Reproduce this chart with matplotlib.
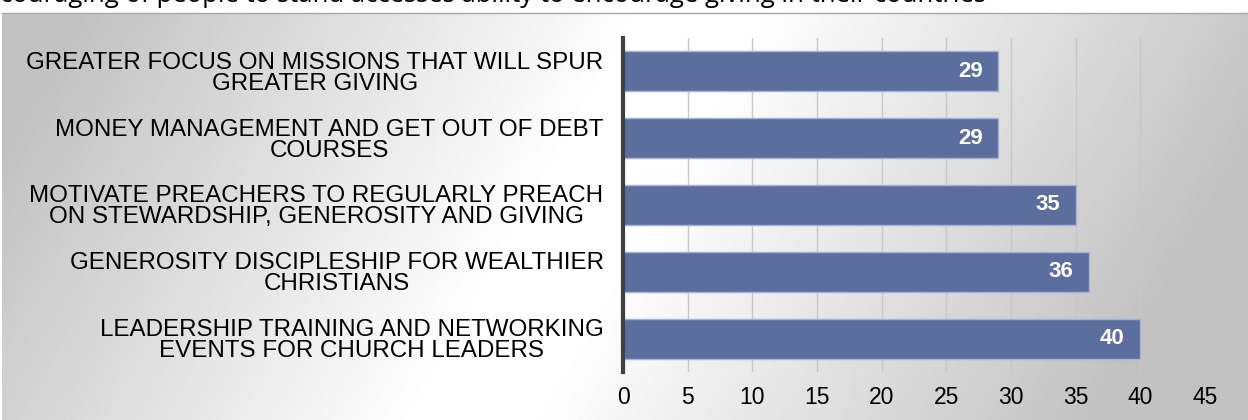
import numpy as np
from matplotlib import pyplot as plt

categories = ['GREATER FOCUS ON MISSIONS THAT WILL SPUR\nGREATER GIVING',
              'MONEY MANAGEMENT AND GET OUT OF DEBT\nCOURSES',
              'MOTIVATE PREACHERS TO REGULARLY PREACH\nON STEWARDSHIP, GENEROSITY AND GIVING',
              'GENEROSITY DISCIPLESHIP FOR WEALTHIER\nCHRISTIANS',
              'LEADERSHIP TRAINING AND NETWORKING\nEVENTS FOR CHURCH LEADERS']
values = [29, 29, 35, 36, 40]
x_ticks = [0, 5, 10, 15, 20, 25, 30, 35, 40, 45]
cut_text = 'couraging of people to stand accesses ability to encourage giving in their countries'

FONT = ['Liberation Sans', 'DejaVu Sans']
W, H = 1248, 420

fig = plt.figure(figsize=(W / 100, H / 100), dpi=100)
fig.patch.set_facecolor('white')

# shaded background of the chart box (gray - white - gray)
bg = fig.add_axes([0.002, 0, 0.998, (H - 13) / H])
xx, yy = np.meshgrid(np.arange(W), np.arange(H - 13))
centre = 700 - 230 * yy / (H - 13)
dist = np.clip((np.abs(xx - centre) - 60) / 560, 0, 1)
shade = 1 - 0.24 * dist
bg.imshow(shade, cmap='gray', vmin=0, vmax=1, aspect='auto',
          interpolation='bilinear')
bg.axis('off')
fig.add_artist(plt.Line2D([0.002, 1], [(H - 13) / H, (H - 13) / H],
                          color='#a8a8a8', lw=1))

# sentence cut off at the top of the image
fig.text(0.0, 1 - 1.5 / H, cut_text, fontsize=18.5, family=['Open Sans', 'DejaVu Sans'],
         va='baseline', ha='left', color='black')

ax = fig.add_axes([623 / W, 1 - 372 / H, (1205 - 623) / W, (372 - 38) / H])
ax.patch.set_alpha(0)
y = np.arange(len(categories))
bars = ax.barh(y, values, height=0.6, color='#5b6e9e', edgecolor='#a4b2d4',
               linewidth=1, zorder=3)
for b, v in zip(bars, values):
    ax.text(v - 1.2, b.get_y() + b.get_height() / 2, str(v), color='white',
            fontsize=16, fontweight='bold', family=FONT,
            ha='right', va='center', zorder=4)

ax.set_xlim(0, 45)
ax.set_ylim(len(categories) - 0.5, -0.5)
ax.set_xticks(x_ticks)
ax.set_xticklabels([str(t) for t in x_ticks], family=FONT, fontsize=16.5)
ax.set_yticks(y)
ax.set_yticklabels(categories, family=FONT, fontsize=17.4,
                   multialignment='center', linespacing=0.93)
ax.tick_params(axis='y', length=0, pad=14)
ax.tick_params(axis='x', length=0, pad=10)
ax.grid(axis='x', color='#c8c8c8', lw=1, zorder=1)
for s in ['top', 'right', 'bottom']:
    ax.spines[s].set_visible(False)
ax.spines['left'].set_color('#404040')
ax.spines['left'].set_linewidth(3)
ax.spines['left'].set_zorder(5)

plt.savefig('out.png', dpi=100)
